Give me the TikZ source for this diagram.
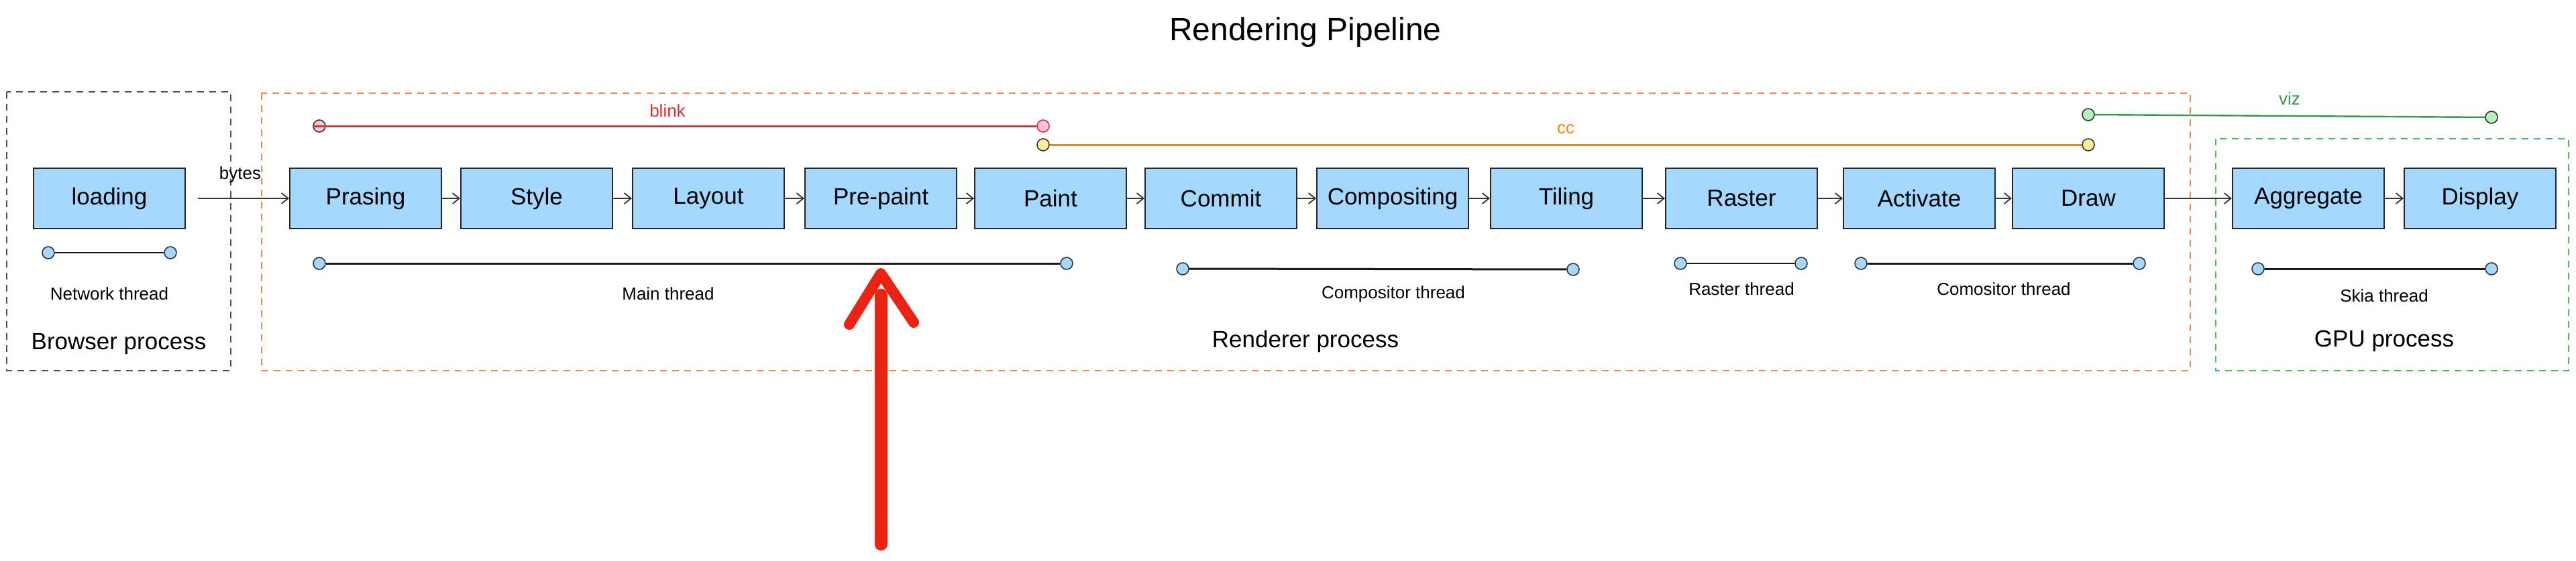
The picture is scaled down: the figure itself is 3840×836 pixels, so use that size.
\documentclass[tikz,border=0pt]{standalone}
\usepackage{fontspec}
\setmainfont{Liberation Sans}
\usetikzlibrary{arrows.meta}
\definecolor{boxblue}{HTML}{A5D8FF}
\definecolor{blinkred}{HTML}{E03131}
\definecolor{blinkfill}{HTML}{FFC9C9}
\definecolor{blinkfillb}{HTML}{FCC2D7}
\definecolor{ccorange}{HTML}{F08C00}
\definecolor{ccfill}{HTML}{FFEC99}
\definecolor{vizgreen}{HTML}{2F9E44}
\definecolor{vizfill}{HTML}{B2F2BB}
\definecolor{rendorange}{HTML}{F4894A}
\definecolor{gpugreen}{HTML}{40C057}
\definecolor{browsergray}{HTML}{495057}
\definecolor{markred}{HTML}{EA2412}
\begin{document}
\begin{tikzpicture}[x=0.5pt,y=-0.5pt,
  stage/.style={draw=black!85, line width=1pt, fill=boxblue, minimum width=113pt, minimum height=45pt, inner sep=0pt, font=\fontsize{17.5}{20}\selectfont},
  flow/.style={draw=black!80, line width=0.9pt, -{Straight Barb[length=5pt,width=8pt]}},
  dot/.style={circle, draw=black!80, line width=0.8pt, minimum size=9pt, inner sep=0pt, fill=boxblue},
  thread/.style={draw=black!90, line width=1.5pt},
  lbl/.style={font=\fontsize{13}{15}\selectfont, inner sep=0pt},
  proc/.style={font=\fontsize{17.5}{20}\selectfont, inner sep=0pt},
  region/.style={line width=0.9pt, dash pattern=on 5pt off 4pt}
]
\useasboundingbox (0,0) rectangle (3840,836);

% title
\node[font=\fontsize{24}{28}\selectfont, inner sep=0pt] (title) at (1946,48) {Rendering Pipeline};

% regions
\draw[region, draw=browsergray] (10,137) rectangle (344,553);
\draw[region, draw=rendorange] (390,139) rectangle (3265,553);
\draw[region, draw=gpugreen] (3303,207) rectangle (3829,553);

% stages
\node[stage] (loading) at (163,296) {loading};
\node[stage] (prasing) at (545,296) {Prasing};
\node[stage] (style) at (800,296) {Style};
\node[stage] (layout) at (1056,296) {Layout};
\node[stage] (prepaint) at (1313,296) {Pre-paint};
\node[stage] (paint) at (1566,296) {Paint};
\node[stage] (commit) at (1820,296) {Commit};
\node[stage] (compositing) at (2076,296) {Compositing};
\node[stage] (tiling) at (2335,296) {Tiling};
\node[stage] (raster) at (2596,296) {Raster};
\node[stage] (activate) at (2861,296) {Activate};
\node[stage] (draw) at (3113,296) {Draw};
\node[stage] (aggregate) at (3441,296) {Aggregate};
\node[stage] (display) at (3697,296) {Display};

% flow arrows
\draw[flow, shorten <=9pt] (loading) -- (prasing);
\draw[flow] (prasing) -- (style);
\draw[flow] (style) -- (layout);
\draw[flow] (layout) -- (prepaint);
\draw[flow] (prepaint) -- (paint);
\draw[flow] (paint) -- (commit);
\draw[flow] (commit) -- (compositing);
\draw[flow] (compositing) -- (tiling);
\draw[flow] (tiling) -- (raster);
\draw[flow] (raster) -- (activate);
\draw[flow] (activate) -- (draw);
\draw[flow] (draw) -- (aggregate);
\draw[flow] (aggregate) -- (display);
\node[lbl] (bytes) at (358,261) {bytes};

% library lines
\node[dot, fill=blinkfill] (b1) at (476,188) {};
\node[dot, fill=blinkfillb, draw=blinkred] (b2) at (1555,188) {};
\draw[draw=blinkred, line width=1.5pt] (b1.west) -- (b2);
\node[lbl, text=blinkred] (blinklbl) at (995,165) {blink};

\node[dot, fill=ccfill] (c1) at (1555,216) {};
\node[dot, fill=ccfill] (c2) at (3113,216) {};
\draw[draw=ccorange, line width=1.5pt] (c1) -- (c2);
\node[lbl, text=ccorange] (cclbl) at (2334,193) {cc};

\node[dot, fill=vizfill] (v1) at (3113,171) {};
\node[dot, fill=vizfill] (v2) at (3714,175) {};
\draw[draw=vizgreen, line width=1.2pt] (v1) -- (v2);
\node[lbl, text=vizgreen] (vizlbl) at (3413,147) {viz};

% threads
\node[dot] (n1) at (72,377) {};
\node[dot] (n2) at (254,377) {};
\draw[thread, line width=1pt] (n1) -- (n2);
\node[lbl] (netlbl) at (163,438) {Network thread};

\node[dot] (m1) at (476,393) {};
\node[dot] (m2) at (1590,393) {};
\draw[thread] (m1) -- (m2);
\node[lbl] (mainlbl) at (996,438) {Main thread};

\node[dot] (k1) at (1763,401) {};
\node[dot] (k2) at (2345,402) {};
\draw[thread] (k1) -- (k2);
\node[lbl] (complbl) at (2077,439) {Compositor thread};

\node[dot] (r1) at (2505,393) {};
\node[dot] (r2) at (2685,393) {};
\draw[thread, line width=1.2pt] (r1) -- (r2);
\node[lbl] (rastlbl) at (2596,431) {Raster thread};

\node[dot] (a1) at (2774,393) {};
\node[dot] (a2) at (3189,393) {};
\draw[thread] (a1) -- (a2);
\node[lbl] (comolbl) at (2987,431) {Comositor thread};

\node[dot] (s1) at (3366,401) {};
\node[dot] (s2) at (3714,401) {};
\draw[thread] (s1) -- (s2);
\node[lbl] (skialbl) at (3554,441) {Skia thread};

% process labels
\node[proc] (browserlbl) at (177,513) {Browser process};
\node[proc] (rendererlbl) at (1946,509) {Renderer process};
\node[proc] (gpulbl) at (3554,509) {GPU process};

% red marker arrow
\draw[markred, line width=9.5pt, line cap=round] (1313,440) -- (1313,812);
\draw[markred, line width=8pt, line cap=round, line join=round] (1266,484) -- (1313,408) -- (1362,481);
\end{tikzpicture}
\end{document}
